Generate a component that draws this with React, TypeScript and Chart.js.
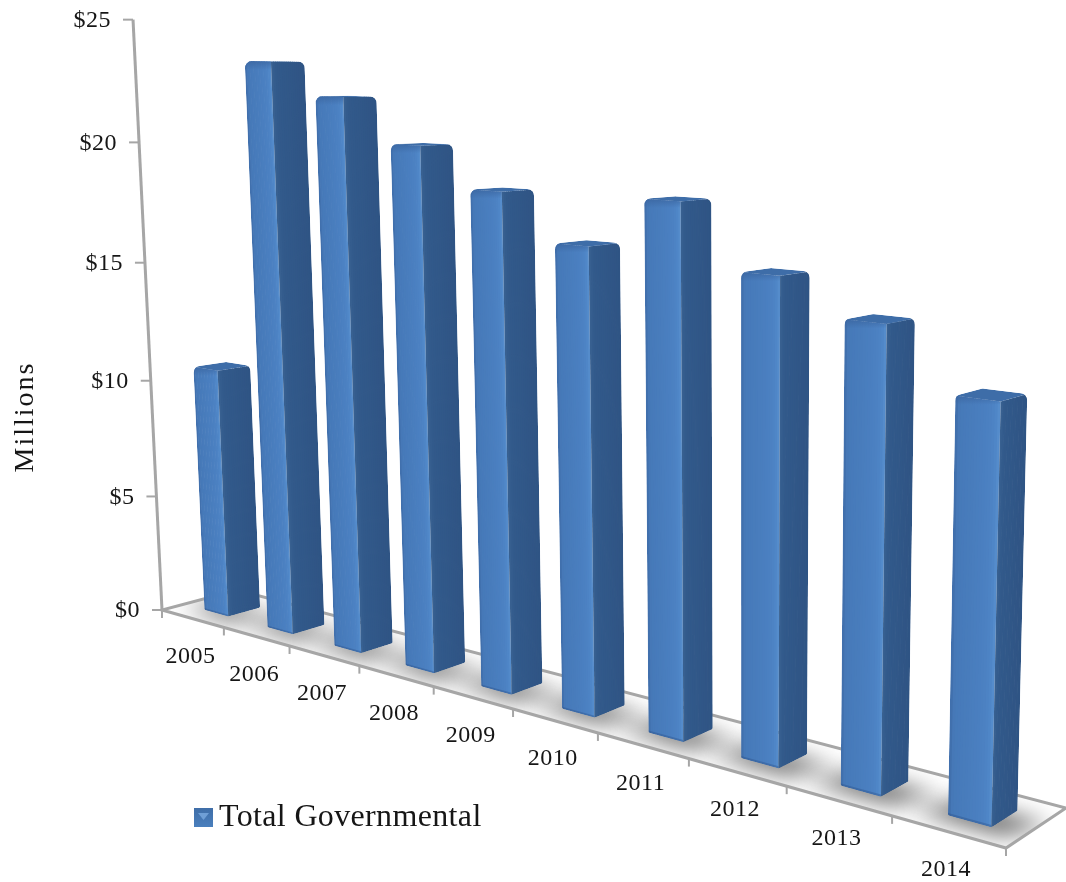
import React, { useEffect, useRef } from "react";
import { Chart, registerables } from "chart.js";

Chart.register(...registerables);

const years = ["2005", "2006", "2007", "2008", "2009", "2010", "2011", "2012", "2013", "2014"];
const totalGovernmental = [10.6, 23.4, 22.1, 20.4, 18.9, 17.2, 19.0, 16.8, 15.6, 13.6];
const seriesName = "Total Governmental";
const axisTitle = "Millions";

const FONT = '"Liberation Serif", serif';
const AXIS_GREY = "#a6a6a6";
const TEXT = "#161616";

// Floor corners on the canvas, in the order near-left, near-right, far-right, far-left.
const NL = [162, 610];
const NR = [1006, 848];
const FR = [1066, 808];
const FL = [237, 590];
// Vertical lines converge below the chart because the camera looks down.
const VANISH = [743, 12448];
const LIFT = -0.0475;
// Bar footprint in floor depth, and a small sideways nudge along the floor.
const DEPTH_NEAR = 0.285;
const DEPTH_FAR = 0.71;
const NUDGE = 0.003;

const dx1 = NR[0] - FR[0], dx2 = FL[0] - FR[0], sx = NL[0] - NR[0] + FR[0] - FL[0];
const dy1 = NR[1] - FR[1], dy2 = FL[1] - FR[1], sy = NL[1] - NR[1] + FR[1] - FL[1];
const den = dx1 * dy2 - dx2 * dy1;
const g = (sx * dy2 - dx2 * sy) / den;
const h = (dx1 * sy - sx * dy1) / den;
const ax = NR[0] - NL[0] + g * NR[0], bx = FL[0] - NL[0] + h * FL[0];
const ay = NR[1] - NL[1] + g * NR[1], by = FL[1] - NL[1] + h * FL[1];

// a: along the category axis (0..1), d: floor depth (0..1), v: height (0..1).
function project(a: number, d: number, v: number): [number, number] {
  const s = LIFT * v;
  const k = 1 + g * a + h * d + s;
  return [
    (NL[0] + ax * a + bx * d + s * VANISH[0]) / k,
    (NL[1] + ay * a + by * d + s * VANISH[1]) / k,
  ];
}

function poly(ctx: CanvasRenderingContext2D, pts: [number, number][]) {
  ctx.beginPath();
  pts.forEach((p, i) => (i ? ctx.lineTo(p[0], p[1]) : ctx.moveTo(p[0], p[1])));
  ctx.closePath();
}

function roundedPoly(ctx: CanvasRenderingContext2D, pts: [number, number][], radii: number[]) {
  const n = pts.length;
  const last = pts[n - 1], first = pts[0];
  ctx.beginPath();
  ctx.moveTo((last[0] + first[0]) / 2, (last[1] + first[1]) / 2);
  for (let i = 0; i < n; i++) {
    const p = pts[i], q = pts[(i + 1) % n];
    ctx.arcTo(p[0], p[1], q[0], q[1], radii[i]);
  }
  ctx.closePath();
}

type Stop = [number, [number, number, number]];

function shade(stops: Stop[], u: number) {
  for (let i = 1; i < stops.length; i++) {
    if (u <= stops[i][0]) {
      const [u0, c0] = stops[i - 1];
      const [u1, c1] = stops[i];
      const t = (u - u0) / (u1 - u0);
      return `rgb(${c0.map((c, j) => Math.round(c + (c1[j] - c) * t)).join(",")})`;
    }
  }
  return `rgb(${stops[stops.length - 1][1].join(",")})`;
}

const FRONT_SHADE: Stop[] = [
  [0, [62, 108, 168]],
  [0.1, [70, 121, 184]],
  [0.75, [75, 128, 193]],
  [0.94, [80, 135, 200]],
  [1, [90, 145, 206]],
];
const SIDE_SHADE: Stop[] = [
  [0, [58, 98, 146]],
  [0.12, [50, 90, 139]],
  [1, [47, 84, 132]],
];

// Paints a column face as thin upright strips, so the shading follows the lean of the column.
function paintFace(
  ctx: CanvasRenderingContext2D,
  at: (u: number, v: number) => [number, number],
  top: number,
  stops: Stop[],
) {
  const strips = 16;
  for (let i = 0; i < strips; i++) {
    const u0 = i / strips;
    const u1 = Math.min(1, (i + 1.4) / strips);
    ctx.fillStyle = shade(stops, (i + 0.5) / strips);
    poly(ctx, [at(u0, 0), at(u1, 0), at(u1, top), at(u0, top)]);
    ctx.fill();
  }
}

const scene3d = {
  id: "scene3d",
  beforeDatasetsDraw(chart: any) {
    const ctx: any = chart.ctx;
    const xs = chart.scales.x, ys = chart.scales.y;
    const meta = chart.getDatasetMeta(0);
    const frac = (px: number) => (ys.bottom - px) / ys.height;
    const floor: [number, number][] = [
      project(0, 0, 0), project(1, 0, 0), project(1, 1, 0), project(0, 1, 0),
    ];

    ctx.save();

    // Soft contact shadows, kept inside the floor
    ctx.save();
    poly(ctx, floor);
    ctx.clip();
    ctx.filter = "blur(11px)";
    ctx.fillStyle = "rgba(85,85,85,0.9)";
    meta.data.forEach((el: any) => {
      const c = (el.x - xs.left) / xs.width + NUDGE;
      const w = el.width / xs.width / 2;
      poly(ctx, [
        project(c - w - 0.026, DEPTH_NEAR - 0.09, 0),
        project(c + w + 0.014, DEPTH_NEAR - 0.09, 0),
        project(c + w + 0.034, DEPTH_FAR - 0.1, 0),
        project(c - w - 0.006, DEPTH_FAR - 0.1, 0),
      ]);
      ctx.fill();
    });
    ctx.restore();

    // Floor outline and value axis
    ctx.strokeStyle = AXIS_GREY;
    ctx.lineWidth = 3;
    ctx.lineJoin = "miter";
    poly(ctx, floor);
    ctx.stroke();
    const base = project(0, 0, 0), top = project(0, 0, 1);
    ctx.beginPath();
    ctx.moveTo(base[0], base[1]);
    ctx.lineTo(top[0], top[1]);
    ctx.stroke();

    // Value axis ticks and labels
    ctx.lineWidth = 2;
    ctx.fillStyle = TEXT;
    ctx.font = `24px ${FONT}`;
    ctx.letterSpacing = "0.5px";
    ctx.textAlign = "right";
    ctx.textBaseline = "middle";
    ys.ticks.forEach((t: any) => {
      const p = project(0, 0, frac(ys.getPixelForValue(t.value)));
      ctx.beginPath();
      ctx.moveTo(p[0] - 10, p[1]);
      ctx.lineTo(p[0], p[1]);
      ctx.stroke();
      ctx.fillText(t.label, p[0] - 22, p[1] + 1);
    });

    // Category ticks along the near floor edge and the year labels
    const count = xs.getLabels().length;
    for (let i = 0; i <= count; i++) {
      const p = project(i / count, 0, 0);
      ctx.beginPath();
      ctx.moveTo(p[0], p[1]);
      ctx.lineTo(p[0], p[1] + 8);
      ctx.stroke();
    }
    ctx.textAlign = "center";
    xs.getLabels().forEach((label: string, i: number) => {
      const a = (xs.getPixelForValue(i) - xs.left) / xs.width;
      const p = project(a, 0, 0);
      ctx.fillText(label, p[0] - 2, p[1] + 38);
    });
    ctx.letterSpacing = "0px";

    // Columns
    meta.data.forEach((el: any) => {
      const c = (el.x - xs.left) / xs.width + NUDGE;
      const w = el.width / xs.width / 2;
      const a0 = c - w, a1 = c + w;
      const v = frac(el.y);
      const P = project;
      const nlb = P(a0, DEPTH_NEAR, 0), nrb = P(a1, DEPTH_NEAR, 0), frb = P(a1, DEPTH_FAR, 0);
      const nlt = P(a0, DEPTH_NEAR, v), nrt = P(a1, DEPTH_NEAR, v);
      const frt = P(a1, DEPTH_FAR, v), flt = P(a0, DEPTH_FAR, v);

      ctx.save();
      roundedPoly(ctx, [nlb, nrb, frb, frt, flt, nlt], [2, 3, 2, 7, 8, 7]);
      ctx.clip();

      paintFace(ctx, (u, t) => P(a0 + (a1 - a0) * u, DEPTH_NEAR, t), v, FRONT_SHADE);
      paintFace(ctx, (u, t) => P(a1, DEPTH_NEAR + (DEPTH_FAR - DEPTH_NEAR) * u, t), v, SIDE_SHADE);

      ctx.fillStyle = "#3e6da8";
      poly(ctx, [nlt, nrt, frt, flt]);
      ctx.fill();

      // Bevel along the lid and the foot of the near face
      const lid = ctx.createLinearGradient(0, nlt[1], 0, nlt[1] + 9);
      lid.addColorStop(0, "rgba(58,100,158,0.75)");
      lid.addColorStop(1, "rgba(58,100,158,0)");
      ctx.fillStyle = lid;
      poly(ctx, [nlt, nrt, P(a1, DEPTH_NEAR, v - 0.02), P(a0, DEPTH_NEAR, v - 0.02)]);
      ctx.fill();
      ctx.fillStyle = "rgba(40,75,130,0.35)";
      poly(ctx, [nlb, nrb, P(a1, DEPTH_NEAR, 0.003), P(a0, DEPTH_NEAR, 0.003)]);
      ctx.fill();
      ctx.restore();
    });

    // Rotated axis title
    ctx.fillStyle = TEXT;
    ctx.save();
    ctx.translate(26, 417);
    ctx.rotate(-Math.PI / 2);
    ctx.font = `28px ${FONT}`;
    ctx.letterSpacing = "2px";
    ctx.textAlign = "center";
    ctx.textBaseline = "middle";
    ctx.fillText(axisTitle, 0, 0);
    ctx.restore();

    // Legend entry
    const mark = ctx.createLinearGradient(0, 808, 0, 827);
    mark.addColorStop(0, "#3f6ea8");
    mark.addColorStop(1, "#4a7fbd");
    ctx.fillStyle = mark;
    ctx.fillRect(194, 808, 19, 19);
    ctx.fillStyle = "#6f9fd6";
    poly(ctx, [[198, 813], [209, 813], [203.5, 820]]);
    ctx.fill();
    ctx.fillStyle = TEXT;
    ctx.font = `32px ${FONT}`;
    ctx.letterSpacing = "0.35px";
    ctx.textAlign = "left";
    ctx.textBaseline = "alphabetic";
    ctx.fillText(chart.data.datasets[0].label, 219, 826);

    ctx.restore();
    return false;
  },
};

export default function App() {
  const ref = useRef<HTMLCanvasElement>(null);
  useEffect(() => {
    document.body.style.margin = "0";
    const chart = new Chart(ref.current!, {
      type: "bar",
      data: {
        labels: years,
        datasets: [
          {
            label: seriesName,
            data: totalGovernmental,
            backgroundColor: "#4f81bd",
            categoryPercentage: 1,
            barPercentage: 0.385,
          },
        ],
      },
      options: {
        animation: false,
        responsive: false,
        layout: { padding: 0 },
        plugins: { legend: { display: false }, tooltip: { enabled: false } },
        scales: {
          x: { display: false, ticks: { autoSkip: false } },
          y: {
            display: false,
            min: 0,
            max: 25,
            ticks: { stepSize: 5, callback: (v: any) => `$${v}` },
          },
        },
      },
      plugins: [scene3d],
    });
    return () => chart.destroy();
  }, []);
  return <canvas ref={ref} width={1066} height={882} style={{ display: "block" }} />;
}
